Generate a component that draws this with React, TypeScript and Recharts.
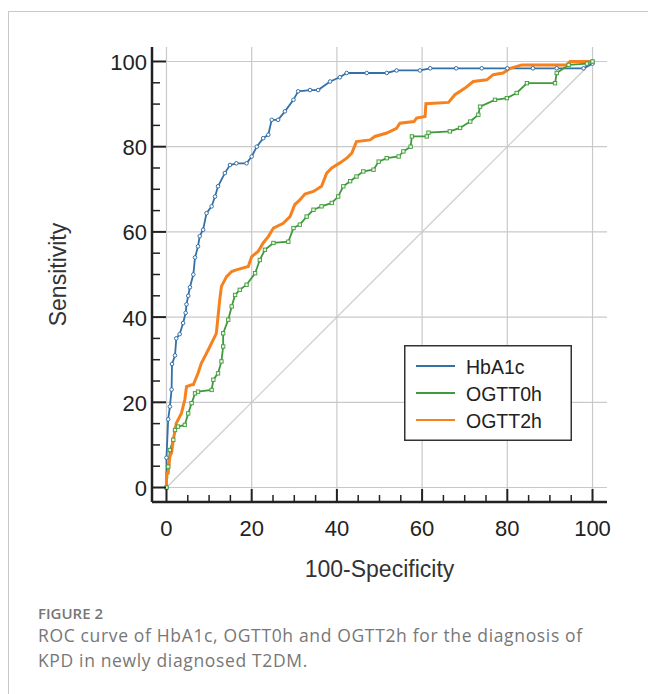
import React from 'react';
import { LineChart, Line, XAxis, YAxis, CartesianGrid, Legend } from 'recharts';

// ---- Data ----
const hba1cFpr = [0, 0, 0.4, 0.8, 1.2, 1.3, 2, 2.3, 3.1, 3.9, 4.5, 4.7, 5.1, 5.5, 6.3, 6.7, 7.4, 7.8, 8.6, 9.4, 10.6, 11.4, 12.1, 13.7, 14.9, 16.4, 18.8, 20, 21.2, 22.7, 23.9, 24.7, 26.2, 27.8, 29.8, 30.9, 33.7, 35.6, 38.4, 40.7, 42.3, 47, 51.7, 54, 59.5, 61.9, 68, 74, 80, 86, 91.6, 97.9, 100, 100];
const hba1cSens = [0, 7, 16, 19, 23, 29, 31, 35, 36, 38.6, 41, 43, 45, 47, 50, 54, 56.6, 59, 60.5, 64.4, 66, 68.3, 70.7, 73.8, 75.7, 76.1, 76.1, 77.7, 80, 82, 82.8, 86.3, 86.3, 88.3, 91, 93, 93.3, 93.3, 95.3, 96.3, 97.3, 97.3, 97.3, 97.9, 97.9, 98.4, 98.4, 98.4, 98.4, 98.4, 98.4, 98.4, 99.5, 100];

const ogtt0Fpr = [0, 0.4, 0.8, 1.6, 2, 2.7, 4.3, 5.1, 5.9, 6.7, 7.4, 10.6, 11, 12.1, 12.9, 13.3, 13.3, 14.5, 15.3, 16.1, 17.2, 18.8, 20.8, 21.9, 23.1, 25.1, 28.6, 29.8, 31.3, 32.9, 34.5, 36.4, 38.8, 40.3, 41.5, 43.1, 44.6, 46.2, 48.6, 49.8, 51.7, 54.5, 55.6, 57.3, 57.6, 61.1, 61.5, 66.5, 68.9, 71.3, 73.2, 73.6, 77.1, 79.9, 82.2, 84.6, 91.2, 91.6, 94.4, 98.7, 100];
const ogtt0Sens = [0, 4.9, 8.8, 11.2, 13.5, 14.3, 14.7, 17.4, 19.8, 22.1, 22.5, 22.9, 25.3, 26.8, 29.6, 33.1, 36.2, 39.4, 42.5, 45.2, 46.4, 47.6, 50.3, 53.4, 55.8, 57.4, 57.7, 60.9, 61.7, 63.6, 65.2, 66, 66.8, 68.3, 70.7, 71.9, 73, 74.2, 74.6, 76.5, 77.3, 77.7, 78.9, 80, 82.4, 82.4, 83.3, 83.6, 84.4, 85.9, 87.5, 89.4, 91, 91.4, 92.6, 94.9, 94.9, 97.3, 99.2, 99.5, 100];

const ogtt2Fpr = [0, 0, 0.4, 0.8, 1.2, 1.6, 2.3, 3.5, 4.3, 4.7, 5.9, 6.3, 7.4, 8.2, 9.4, 10.2, 11.7, 12.1, 12.5, 12.9, 14.1, 15.3, 16.4, 19.2, 20, 21.5, 22.7, 23.9, 25.1, 27.4, 29, 30.1, 31.3, 32.5, 34.5, 36.4, 37.6, 38.8, 40.7, 42.3, 43.5, 44.6, 47.8, 48.9, 51.7, 54, 54.8, 58.1, 58.7, 60.7, 60.9, 66.2, 67.7, 70, 72, 75.2, 76.7, 79, 80.7, 83.4, 94, 94.7, 100];
const ogtt2Sens = [0, 3.4, 3.4, 7.3, 8.2, 11.2, 15.1, 17.4, 20.6, 23.7, 24.1, 24.1, 26.8, 29.2, 31.5, 33.1, 36.2, 40.1, 44.1, 47.2, 49.5, 50.7, 51.1, 51.9, 54.2, 55.4, 57.4, 58.9, 60.9, 62, 63.6, 66.4, 67.5, 68.9, 69.5, 70.7, 73.8, 75, 76.2, 77.3, 78.5, 81.2, 81.6, 82.4, 83.2, 84.3, 85.5, 85.9, 86.7, 87.1, 90.1, 90.4, 92.2, 93.7, 95.3, 95.7, 96.9, 97.3, 98.4, 99.2, 99.2, 100, 100];

const diagX = [0, 100];
const diagY = [0, 100];

const seriesNames = ['HbA1c', 'OGTT0h', 'OGTT2h'];
const seriesColors = ['#3470a8', '#3f9a3c', '#f5821f'];

const majorTicks = [0, 20, 40, 60, 80, 100];
const allTicks = [0, 5, 10, 15, 20, 25, 30, 35, 40, 45, 50, 55, 60, 65, 70, 75, 80, 85, 90, 95, 100];

const xTitle = '100-Specificity';
const yTitle = 'Sensitivity';
const figLabel = 'FIGURE 2';
const captionLines = ['ROC curve of HbA1c, OGTT0h and OGTT2h for the diagnosis of', 'KPD in newly diagnosed T2DM.'];

const toPoints = (xs: number[], ys: number[]) => xs.map((x, i) => ({ x, y: ys[i] }));

const hba1cData = toPoints(hba1cFpr, hba1cSens);
const ogtt0Data = toPoints(ogtt0Fpr, ogtt0Sens);
const ogtt2Data = toPoints(ogtt2Fpr, ogtt2Sens);
const diagData = toPoints(diagX, diagY);

const DOMAIN: [number, number] = [-3.4, 103.4];
const AXIS_FONT = '"Liberation Sans", Arial, sans-serif';
const INK = '#222';

const XTick = (props: any) => {
  const { x, y, payload } = props;
  const v = payload.value;
  const major = v % 20 === 0;
  return (
    <g>
      <line x1={x} x2={x} y1={y} y2={y - (major ? 13 : 7)} stroke={INK} strokeWidth={major ? 2 : 1.5} />
      {major && (
        <text x={x} y={y + 26} textAnchor="middle" dominantBaseline="central" fontFamily={AXIS_FONT} fontSize={22} fill={INK}>
          {v}
        </text>
      )}
    </g>
  );
};

const YTick = (props: any) => {
  const { x, y, payload } = props;
  const v = payload.value;
  const major = v % 20 === 0;
  return (
    <g>
      <line x1={x} x2={x + (major ? 14 : 8)} y1={y} y2={y} stroke={INK} strokeWidth={major ? 2 : 1.5} />
      {major && (
        <text x={x - 5} y={y + 1} textAnchor="end" dominantBaseline="central" fontFamily={AXIS_FONT} fontSize={22} fill={INK}>
          {v}
        </text>
      )}
    </g>
  );
};

const CircleDot = (color: string) => (props: any) => {
  const { cx, cy, index } = props;
  if (cx == null || cy == null) return <g key={index} />;
  return <circle key={index} cx={cx} cy={cy} r={1.8} fill="#fff" stroke={color} strokeWidth={1} />;
};

const SquareDot = (color: string) => (props: any) => {
  const { cx, cy, index } = props;
  if (cx == null || cy == null) return <g key={index} />;
  return <rect key={index} x={cx - 1.7} y={cy - 1.7} width={3.4} height={3.4} fill="#e8f5e0" stroke={color} strokeWidth={0.9} />;
};

const LegendBox = () => (
  <svg width={168} height={96} style={{ display: 'block' }}>
    <rect x={0.75} y={0.75} width={166.5} height={94.5} fill="#fff" stroke="#333" strokeWidth={1.5} />
    {seriesNames.map((name, i) => {
      const cy = 21 + i * 27;
      return (
        <g key={name}>
          <line x1={12} x2={51} y1={cy} y2={cy} stroke={seriesColors[i]} strokeWidth={2} />
          <text x={62} y={cy + 1} dominantBaseline="central" fontFamily={AXIS_FONT} fontSize={19.5} fill={INK}>
            {name}
          </text>
        </g>
      );
    })}
  </svg>
);

export default function App() {
  return (
    <div style={{ position: 'fixed', left: 0, top: 0, width: 648, height: 694, overflow: 'hidden', background: '#fff' }}>
      <div
        style={{
          position: 'absolute',
          left: 8,
          top: 11,
          width: 720,
          height: 800,
          border: '1px solid #c8c8c8',
          boxSizing: 'border-box',
        }}
      />
      <div style={{ position: 'absolute', left: 0, top: 0 }}>
        <LineChart width={648} height={600} margin={{ top: 47, right: 41, bottom: 68, left: 92 }}>
          <CartesianGrid
            stroke="#c9c9c9"
            strokeWidth={1.2}
            horizontalValues={majorTicks}
            verticalValues={majorTicks}
          />
          <XAxis
            type="number"
            dataKey="x"
            domain={DOMAIN}
            allowDataOverflow
            ticks={allTicks}
            interval={0}
            height={30}
            tickSize={0}
            tickMargin={0}
            tickLine={false}
            tick={<XTick />}
            axisLine={{ stroke: INK, strokeWidth: 2.5 }}
            label={{
              content: (p: any) => {
                const vb = p.viewBox || {};
                return (
                  <text x={(vb.x ?? 152) + (vb.width ?? 455) / 2} y={569} textAnchor="middle" dominantBaseline="central" fontFamily={AXIS_FONT} fontSize={23} fill="#333">
                    {xTitle}
                  </text>
                );
              },
            }}
          />
          <YAxis
            type="number"
            dataKey="y"
            domain={DOMAIN}
            allowDataOverflow
            ticks={allTicks}
            interval={0}
            width={60}
            tickSize={0}
            tickMargin={0}
            tickLine={false}
            tick={<YTick />}
            axisLine={{ stroke: INK, strokeWidth: 2.5 }}
            label={{
              content: (p: any) => {
                const vb = p.viewBox || {};
                const cy = (vb.y ?? 47) + (vb.height ?? 455) / 2;
                return (
                  <text x={58} y={cy} transform={`rotate(-90, 58, ${cy})`} textAnchor="middle" dominantBaseline="central" fontFamily={AXIS_FONT} fontSize={23} fill="#333">
                    {yTitle}
                  </text>
                );
              },
            }}
          />
          <Legend
            layout="vertical"
            align="center"
            verticalAlign="middle"
            wrapperStyle={{ position: 'absolute', left: 404, top: 345, width: 168, height: 96 }}
            content={() => <LegendBox />}
          />
          <Line data={diagData} dataKey="y" stroke="#c8c8c8" strokeWidth={1.2} dot={false} isAnimationActive={false} legendType="none" />
          <Line
            data={hba1cData}
            dataKey="y"
            name={seriesNames[0]}
            stroke={seriesColors[0]}
            strokeWidth={1.8}
            dot={CircleDot(seriesColors[0])}
            activeDot={false}
            isAnimationActive={false}
          />
          <Line
            data={ogtt0Data}
            dataKey="y"
            name={seriesNames[1]}
            stroke={seriesColors[1]}
            strokeWidth={1.8}
            dot={SquareDot(seriesColors[1])}
            activeDot={false}
            isAnimationActive={false}
          />
          <Line
            data={ogtt2Data}
            dataKey="y"
            name={seriesNames[2]}
            stroke={seriesColors[2]}
            strokeWidth={3}
            dot={false}
            activeDot={false}
            isAnimationActive={false}
          />
        </LineChart>
      </div>
      <div
        style={{
          position: 'absolute',
          left: 38,
          top: 606,
          fontFamily: '"Open Sans", "Noto Sans", sans-serif',
          fontSize: 15,
          lineHeight: '15px',
          fontWeight: 600,
          color: '#777',
          whiteSpace: 'nowrap',
        }}
      >
        {figLabel}
      </div>
      <div
        style={{
          position: 'absolute',
          left: 38,
          top: 623,
          fontFamily: '"Open Sans", "Noto Sans", sans-serif',
          fontSize: 17.5,
          letterSpacing: '0.65px',
          lineHeight: '25px',
          color: '#777',
          whiteSpace: 'nowrap',
        }}
      >
        {captionLines.map((l) => (
          <div key={l}>{l}</div>
        ))}
      </div>
    </div>
  );
}
